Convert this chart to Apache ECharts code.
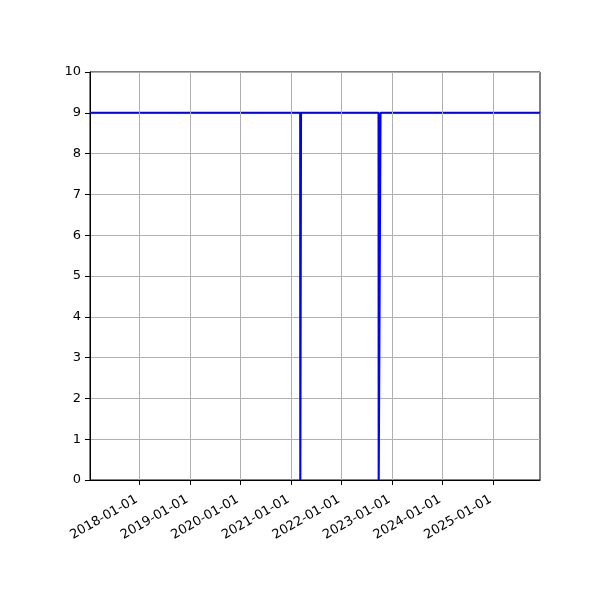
<!DOCTYPE html>
<html>
<head>
<meta charset="utf-8">
<script src="https://cdn.jsdelivr.net/npm/echarts@6/dist/echarts.min.js"></script>
<style>html,body{margin:0;padding:0;background:#fff}#c{width:600px;height:600px}</style>
</head>
<body>
<div id="c"></div>
<script>
// Data
const dates = ['2017-01-10', '2021-03-08', '2021-03-09', '2021-03-13', '2021-03-14', '2022-09-25', '2022-09-26', '2022-10-08', '2022-10-09', '2025-12-04'];
const values = [9, 9, 0, 0, 9, 9, 0, 0, 9, 9];
const tickLabels = ['2018-01-01', '2019-01-01', '2020-01-01', '2021-01-01', '2022-01-01', '2023-01-01', '2024-01-01', '2025-01-01'];
const xRange = ['2017-01-10', '2025-12-04'];
const yTicks = [0, 1, 2, 3, 4, 5, 6, 7, 8, 9, 10];

function toTime(s) { const p = s.split('-').map(Number); return Date.UTC(p[0], p[1] - 1, p[2]); }
function fmt(t) { const d = new Date(t); const pad = n => String(n).padStart(2, '0'); return d.getUTCFullYear() + '-' + pad(d.getUTCMonth() + 1) + '-' + pad(d.getUTCDate()); }

const tickTimes = tickLabels.map(toTime);
const seriesData = dates.map((d, i) => [toTime(d), values[i]]);
const font = 'DejaVu Sans';

const chart = echarts.init(document.getElementById('c'), null, { renderer: 'canvas' });
chart.setOption({
  animation: false,
  backgroundColor: '#ffffff',
  grid: { left: 90, right: 60, top: 72, bottom: 120, show: true, borderColor: '#000', borderWidth: 1, backgroundColor: 'transparent' },
  xAxis: {
    type: 'value',
    min: toTime(xRange[0]),
    max: toTime(xRange[1]),
    axisLine: { show: true, lineStyle: { color: '#000', width: 1 } },
    axisTick: { show: true, inside: false, length: 5, lineStyle: { color: '#000', width: 1 }, customValues: tickTimes },
    axisLabel: { show: true, rotate: 30, margin: 17, padding: [0, 3, 0, 0], color: '#000', fontFamily: font, fontSize: 13, customValues: tickTimes, formatter: v => fmt(v), hideOverlap: false, showMinLabel: true, showMaxLabel: true },
    splitLine: { show: false },
    minorTick: { show: false }
  },
  yAxis: {
    type: 'value',
    min: yTicks[0],
    max: yTicks[yTicks.length - 1],
    interval: 1,
    axisLine: { show: true, lineStyle: { color: '#000', width: 1 } },
    axisTick: { show: true, inside: false, length: 5, lineStyle: { color: '#000', width: 1 } },
    axisLabel: { color: '#000', fontFamily: font, fontSize: 13, margin: 9 },
    splitLine: { show: true, lineStyle: { color: '#b0b0b0', width: 1 } }
  },
  series: [
    {
      type: 'line',
      data: [],
      z: 1,
      silent: true,
      markLine: {
        silent: true,
        symbol: ['none', 'none'],
        label: { show: false },
        lineStyle: { color: '#b0b0b0', width: 1, type: 'solid' },
        emphasis: { disabled: true },
        data: tickTimes.map(t => ({ xAxis: t }))
      }
    },
    {
      type: 'line',
      data: seriesData,
      z: 3,
      showSymbol: false,
      symbol: 'none',
      lineStyle: { color: '#0000ff', width: 2.1 },
      itemStyle: { color: '#0000ff' },
      clip: true
    }
  ]
});
</script>
</body>
</html>
